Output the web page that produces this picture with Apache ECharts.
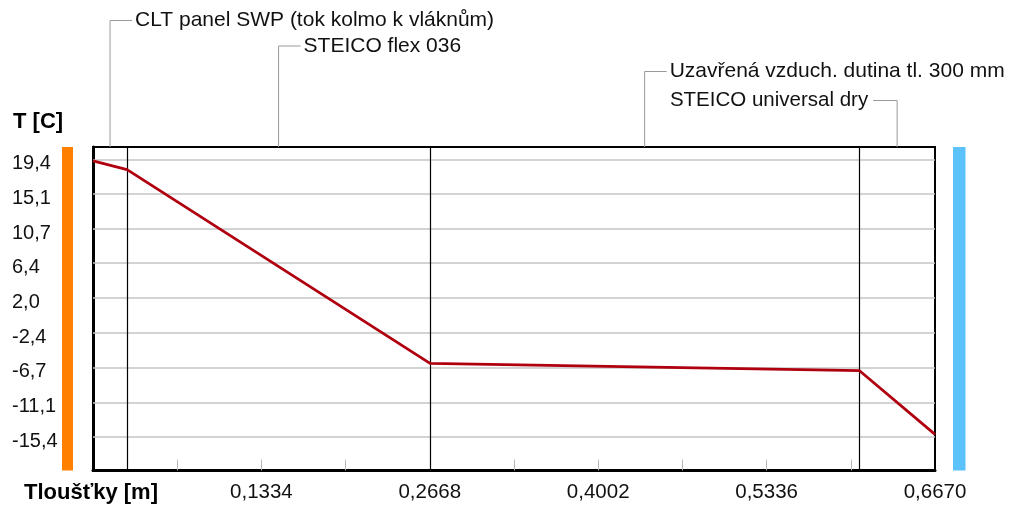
<!DOCTYPE html>
<html><head><meta charset="utf-8">
<script src="https://cdn.jsdelivr.net/npm/echarts@6/dist/echarts.min.js"></script>
<style>html,body{margin:0;padding:0;background:#fff}#c{width:1010px;height:509px}</style>
</head><body><div id="c"></div>
<script>
// ---- data ----
const layerNames = ['CLT panel SWP (tok kolmo k vláknům)', 'STEICO flex 036', 'Uzavřená vzduch. dutina tl. 300 mm', 'STEICO universal dry'];
const layerBounds = [0, 0.027, 0.267, 0.607, 0.667];
const profileX = [0, 0.027, 0.267, 0.607, 0.667];
const profileT = [19.2, 18.1, -6.2, -7.1, -15.1];
const yTicks = [19.4, 15.1, 10.7, 6.4, 2.0, -2.4, -6.7, -11.1, -15.4];
const xTicks = [0.0667, 0.1334, 0.2001, 0.2668, 0.3335, 0.4002, 0.4669, 0.5336, 0.6003];
const xLabels = [0.1334, 0.2668, 0.4002, 0.5336, 0.6670];
const yName = 'T [C]';
const xName = 'Tloušťky [m]';

// ---- chart ----
const FONT = 'Liberation Sans';
const chart = echarts.init(document.getElementById('c'), null, {renderer: 'canvas'});
const GL = 93, GR = 75, GT = 147, GB = 38.5;
const option = {
  animation: false,
  grid: {left: GL, right: GR, top: GT, bottom: GB, show: true, borderColor: '#000', borderWidth: 2, backgroundColor: '#fff'},
  xAxis: {
    type: 'value', min: 0, max: 0.667,
    axisLine: {show: true, onZero: false, lineStyle: {color: '#000', width: 3}},
    axisTick: {show: true, inside: true, length: 11, customValues: xTicks, lineStyle: {color: '#b8b8b8', width: 1}},
    axisLabel: {show: true, customValues: xLabels, margin: 11, color: '#111', fontFamily: FONT, fontSize: 20.5,
      formatter: v => v.toFixed(4).replace('.', ',')},
    splitLine: {show: false}
  },
  yAxis: {
    type: 'value', min: -19.64, max: 20.94,
    axisLine: {show: true, onZero: false, lineStyle: {color: '#000', width: 3}},
    axisTick: {show: false, customValues: yTicks},
    axisLabel: {show: true, customValues: yTicks, align: 'left', margin: 81, color: '#111', fontFamily: FONT, fontSize: 20,
      formatter: v => '{a|' + v.toFixed(1).replace('.', ',') + '}',
      rich: {a: {fontFamily: FONT, fontSize: 20, color: '#111', padding: [9, 0, 0, 0]}}},
    splitLine: {show: false}
  },
  series: [
    {
      type: 'line', data: profileX.map((x, i) => [x, profileT[i]]),
      symbol: 'none', lineStyle: {color: '#b0000f', width: 2.8}, z: 5,
      markLine: {
        silent: true, symbol: 'none', animation: false, precision: 4,
        label: {show: false},
        data: yTicks.map(v => ({yAxis: v, lineStyle: {color: '#c4c4c4', width: 1.5, type: 'solid'}}))
          .concat(layerBounds.slice(1, -1).map(v => ({xAxis: v, lineStyle: {color: '#000', width: 1.2, type: 'solid'}})))
      }
    }
  ]
};
chart.setOption(option);

// layer annotations with leader lines
const levels = [20.5, 46, 71.5, 100.5];
const sides = ['right', 'right', 'right', 'left'];
const elements = [];
const plotTop = chart.convertToPixel({gridIndex: 0}, [0, 20.94])[1];
const plotBottom = chart.convertToPixel({gridIndex: 0}, [0, -19.64])[1];
layerNames.forEach((name, i) => {
  const mid = (layerBounds[i] + layerBounds[i + 1]) / 2;
  const px = chart.convertToPixel({gridIndex: 0}, [mid, 0])[0];
  const y = levels[i];
  const ls = {stroke: '#9a9a9a', lineWidth: 1};
  elements.push({type: 'line', shape: {x1: px, y1: y, x2: px, y2: plotTop}, style: ls, silent: true});
  if (sides[i] === 'right') {
    elements.push({type: 'line', shape: {x1: px, y1: y, x2: px + 22, y2: y}, style: ls, silent: true});
    elements.push({type: 'text', x: px + 25, y: y, style: {text: name, font: '21px "' + FONT + '"', fill: '#111', textAlign: 'left', textVerticalAlign: 'middle'}});
  } else {
    elements.push({type: 'line', shape: {x1: px, y1: y, x2: px - 24, y2: y}, style: ls, silent: true});
    elements.push({type: 'text', x: px - 29, y: y, style: {text: name, font: '20.5px "' + FONT + '"', fill: '#111', textAlign: 'right', textVerticalAlign: 'middle'}});
  }
});
// interior / exterior colour bars
elements.push({type: 'rect', shape: {x: 62, y: plotTop, width: 11, height: plotBottom - plotTop}, style: {fill: '#ff8000'}, silent: true});
elements.push({type: 'rect', shape: {x: 953, y: plotTop, width: 12.5, height: plotBottom - plotTop}, style: {fill: '#5bc2fb'}, silent: true});
// axis names
elements.push({type: 'text', x: 13, y: 122, style: {text: yName, font: 'bold 22px "' + FONT + '"', fill: '#000', textAlign: 'left', textVerticalAlign: 'middle'}});
elements.push({type: 'text', x: 24, y: 493, style: {text: xName, font: 'bold 22px "' + FONT + '"', fill: '#000', textAlign: 'left', textVerticalAlign: 'middle'}});
chart.setOption({graphic: {elements: elements}});
</script>
</body></html>
